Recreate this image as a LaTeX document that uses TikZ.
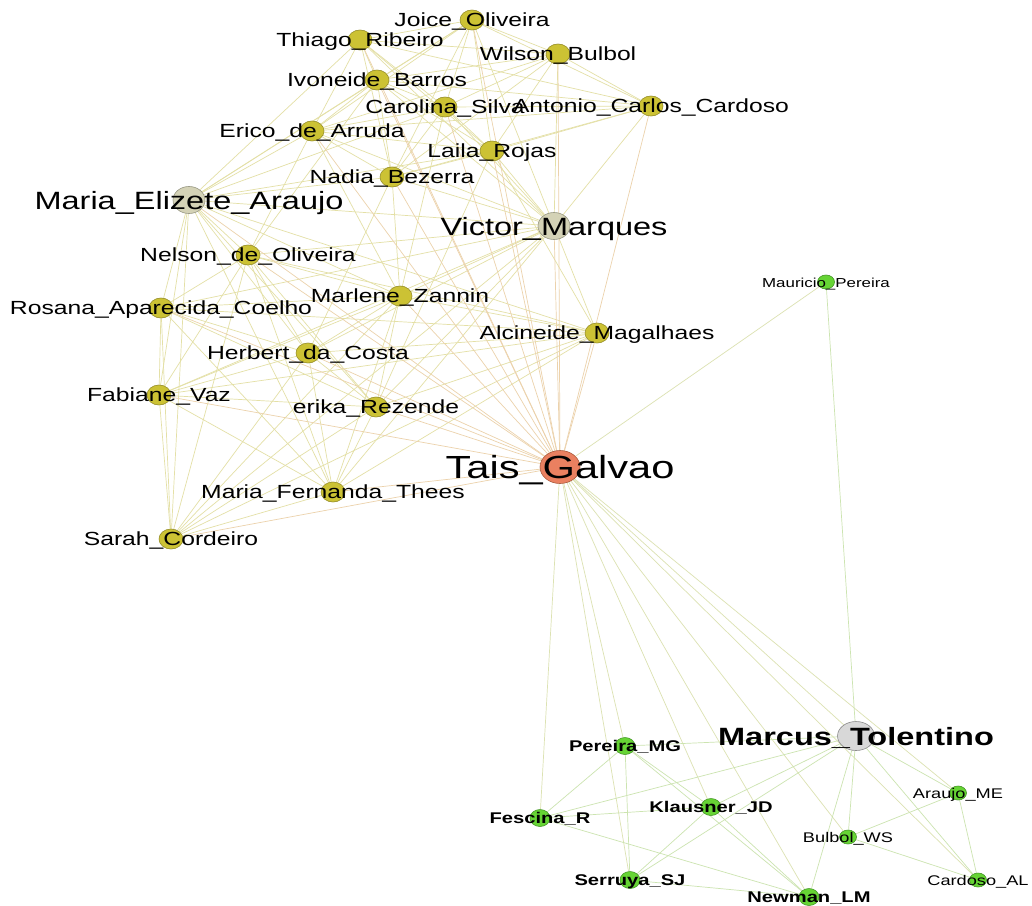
\documentclass[tikz,border=0pt]{standalone}
\usepackage{fontspec}
\setmainfont{Liberation Sans}[FakeStretch=1.3]
\usetikzlibrary{shapes.geometric,backgrounds}

\definecolor{yfill}{RGB}{204,194,52}
\definecolor{ydraw}{RGB}{150,142,40}
\definecolor{khaki}{RGB}{212,210,182}
\definecolor{kdraw}{RGB}{150,150,130}
\definecolor{greyfill}{RGB}{216,216,216}
\definecolor{greydraw}{RGB}{140,140,140}
\definecolor{tfill}{RGB}{234,128,96}
\definecolor{tdraw}{RGB}{170,90,60}
\definecolor{gfill}{RGB}{102,212,52}
\definecolor{gdraw}{RGB}{70,150,40}
\definecolor{yline}{RGB}{228,224,166}
\definecolor{tline}{RGB}{236,210,172}
\definecolor{gline}{RGB}{204,228,176}
\definecolor{tgline}{RGB}{220,226,178}

\tikzset{
  person/.style={ellipse, inner sep=0pt, line width=0.6pt},
  ynode/.style={person, fill=yfill, draw=ydraw, minimum width=24pt, minimum height=20pt},
  knode/.style={person, fill=khaki, draw=kdraw, minimum width=32pt, minimum height=27pt},
  tnode/.style={person, fill=tfill, draw=tdraw, minimum width=40pt, minimum height=33pt},
  mnode/.style={person, fill=greyfill, draw=greydraw, minimum width=37pt, minimum height=29pt},
  gnode/.style={person, fill=gfill, draw=gdraw, minimum width=20pt, minimum height=17pt},
  gsnode/.style={person, fill=gfill, draw=gdraw, minimum width=17pt, minimum height=14pt},
  lab/.style={inner sep=0pt, text depth=0pt},
  ylab/.style={lab, font=\fontsize{19}{19}\selectfont, text height=13.7pt},
  klab/.style={lab, font=\fontsize{25}{25}\selectfont, text height=18pt},
  tlab/.style={lab, font=\fontsize{32}{32}\selectfont, text height=23pt},
  mlab/.style={lab, font=\bfseries\fontsize{25}{25}\selectfont, text height=18pt},
  glab/.style={lab, font=\bfseries\fontsize{15.5}{15.5}\selectfont, text height=11.2pt},
  gslab/.style={lab, font=\fontsize{14}{14}\selectfont, text height=10pt},
  yedge/.style={draw=yline, line width=0.7pt},
  tedge/.style={draw=tline, line width=0.7pt},
  gedge/.style={draw=gline, line width=0.7pt},
  tgedge/.style={draw=tgline, line width=0.7pt},
}

\begin{document}
\begin{tikzpicture}[x=1pt,y=-1pt]
\useasboundingbox (0,0) rectangle (1032,905);

% people
\node[ynode] (joice) at (472,20) {};
\node[ynode] (thiago) at (360,40) {};
\node[ynode] (wilson) at (558,54) {};
\node[ynode] (ivoneide) at (377,80) {};
\node[ynode] (carolina) at (445,107) {};
\node[ynode] (antonio) at (651,106) {};
\node[ynode] (erico) at (312,131) {};
\node[ynode] (laila) at (492,151) {};
\node[ynode] (nadia) at (392,177) {};
\node[knode] (elizete) at (189,200) {};
\node[knode] (victor) at (554,226) {};
\node[ynode] (nelson) at (248,255) {};
\node[ynode] (marlene) at (400,296) {};
\node[ynode] (rosana) at (161,308) {};
\node[ynode] (alcineide) at (597,333) {};
\node[ynode] (herbert) at (308,353) {};
\node[ynode] (fabiane) at (159,395) {};
\node[ynode] (erika) at (376,407) {};
\node[tnode] (tais) at (560,467) {};
\node[ynode] (fernanda) at (333,492) {};
\node[ynode] (sarah) at (171,539) {};
\node[gsnode] (mauricio) at (826,282) {};
\node[mnode] (marcus) at (856,736) {};
\node[gnode] (pereira) at (625,746) {};
\node[gsnode] (araujo) at (958,793) {};
\node[gnode] (fescina) at (540,818) {};
\node[gnode] (klausner) at (711,807) {};
\node[gsnode] (bulbol) at (848,837) {};
\node[gnode] (serruya) at (630,880) {};
\node[gnode] (newman) at (809,897) {};
\node[gsnode] (cardoso) at (978,880) {};

% names
\node[ylab] (joiceL) at (joice) {Joice\_Oliveira};
\node[ylab] (thiagoL) at (thiago) {Thiago\_Ribeiro};
\node[ylab] (wilsonL) at (wilson) {Wilson\_Bulbol};
\node[ylab] (ivoneideL) at (ivoneide) {Ivoneide\_Barros};
\node[ylab] (carolinaL) at (carolina) {Carolina\_Silva};
\node[ylab] (antonioL) at (antonio) {Antonio\_Carlos\_Cardoso};
\node[ylab] (ericoL) at (erico) {Erico\_de\_Arruda};
\node[ylab] (lailaL) at (laila) {Laila\_Rojas};
\node[ylab] (nadiaL) at (nadia) {Nadia\_Bezerra};
\node[klab] (elizeteL) at (elizete) {Maria\_Elizete\_Araujo};
\node[klab] (victorL) at (victor) {Victor\_Marques};
\node[ylab] (nelsonL) at (nelson) {Nelson\_de\_Oliveira};
\node[ylab] (marleneL) at (marlene) {Marlene\_Zannin};
\node[ylab] (rosanaL) at (rosana) {Rosana\_Aparecida\_Coelho};
\node[ylab] (alcineideL) at (alcineide) {Alcineide\_Magalhaes};
\node[ylab] (herbertL) at (herbert) {Herbert\_da\_Costa};
\node[ylab] (fabianeL) at (fabiane) {Fabiane\_Vaz};
\node[ylab] (erikaL) at (erika) {erika\_Rezende};
\node[tlab] (taisL) at (tais) {Tais\_Galvao};
\node[ylab] (fernandaL) at (fernanda) {Maria\_Fernanda\_Thees};
\node[ylab] (sarahL) at (sarah) {Sarah\_Cordeiro};
\node[gslab, font=\fontsize{13}{13}\selectfont] (mauricioL) at (mauricio) {Mauricio\_Pereira};
\node[mlab] (marcusL) at (marcus) {Marcus\_Tolentino};
\node[glab] (pereiraL) at (pereira) {Pereira\_MG};
\node[gslab] (araujoL) at (araujo) {Araujo\_ME};
\node[glab] (fescinaL) at (fescina) {Fescina\_R};
\node[glab] (klausnerL) at (klausner) {Klausner\_JD};
\node[gslab] (bulbolL) at (bulbol) {Bulbol\_WS};
\node[glab] (serruyaL) at (serruya) {Serruya\_SJ};
\node[glab] (newmanL) at (newman) {Newman\_LM};
\node[gslab] (cardosoL) at (cardoso) {Cardoso\_AL};

\begin{scope}[on background layer]
\fill[white] (0,0) rectangle (1032,905);

% upper group
\path[yedge] (joice) edge (thiago) edge (wilson) edge (ivoneide) edge (carolina) edge (antonio) edge (erico) edge (laila) edge (nadia);
\path[yedge] (thiago) edge (wilson) edge (ivoneide) edge (carolina) edge (antonio) edge (erico) edge (laila) edge (nadia);
\path[yedge] (wilson) edge (ivoneide) edge (carolina) edge (antonio) edge (erico) edge (laila) edge (nadia);
\path[yedge] (ivoneide) edge (carolina) edge (antonio) edge (erico) edge (laila) edge (nadia) edge (nelson);
\path[yedge] (carolina) edge (antonio) edge (erico) edge (laila) edge (nadia) edge (marlene);
\path[yedge] (antonio) edge (erico) edge (laila) edge (nadia);
\path[yedge] (erico) edge (laila) edge (nadia) edge (nelson) edge (marlene);
\path[yedge] (laila) edge (nadia) edge (alcineide) edge (erika);
\path[yedge] (nadia) edge (herbert) edge (marlene);

% lower group
\path[yedge] (nelson) edge (rosana) edge (marlene) edge (alcineide) edge (herbert) edge (fabiane) edge (erika) edge (fernanda) edge (sarah);
\path[yedge] (rosana) edge (marlene) edge (alcineide) edge (herbert) edge (fabiane) edge (erika) edge (fernanda) edge (sarah);
\path[yedge] (marlene) edge (alcineide) edge (herbert) edge (fabiane) edge (erika) edge (fernanda) edge (sarah);
\path[yedge] (alcineide) edge (herbert) edge (fabiane) edge (erika) edge (fernanda) edge (sarah);
\path[yedge] (herbert) edge (fabiane) edge (erika) edge (fernanda) edge (sarah);
\path[yedge] (fabiane) edge (erika) edge (fernanda) edge (sarah);
\path[yedge] (erika) edge (fernanda) edge (sarah);
\path[yedge] (fernanda) edge (sarah);

% the two grey ones
\path[yedge] (elizete) edge (joice) edge (thiago) edge (ivoneide) edge (carolina) edge (erico) edge (laila) edge (nadia) edge (victor)
  edge (nelson) edge (rosana) edge (marlene) edge (alcineide) edge (herbert) edge (fabiane) edge (erika) edge (fernanda) edge (sarah);
\path[yedge] (victor) edge (joice) edge (thiago) edge (wilson) edge (ivoneide) edge (carolina) edge (antonio) edge (erico) edge (laila) edge (nadia)
  edge (nelson) edge (rosana) edge (marlene) edge (alcineide) edge (herbert) edge (fabiane) edge (erika) edge (fernanda) edge (sarah);

% Tais to everybody
\path[tedge] (tais) edge (joice) edge (thiago) edge (wilson) edge (ivoneide) edge (carolina) edge (antonio) edge (erico) edge (laila) edge (nadia)
  edge (elizete) edge (victor) edge (nelson) edge (rosana) edge (marlene) edge (alcineide) edge (herbert) edge (fabiane) edge (erika) edge (fernanda) edge (sarah);
\path[tgedge] (tais) edge (mauricio) edge (marcus) edge (pereira) edge (araujo) edge (fescina) edge (klausner) edge (bulbol) edge (serruya) edge (newman) edge (cardoso);

% lower right group
\path[gedge] (marcus) edge (mauricio) edge (pereira) edge (fescina) edge (klausner) edge (serruya) edge (newman) edge (bulbol) edge (araujo) edge (cardoso);
\path[gedge] (pereira) edge (fescina) edge (serruya) edge (klausner) edge (newman);
\path[gedge] (fescina) edge (klausner) edge (newman);
\path[gedge] (klausner) edge (serruya) edge (newman);
\path[gedge] (serruya) edge (newman);
\path[gedge] (bulbol) edge (araujo) edge (cardoso);
\path[gedge] (araujo) edge (cardoso);
\end{scope}
\end{tikzpicture}
\end{document}
